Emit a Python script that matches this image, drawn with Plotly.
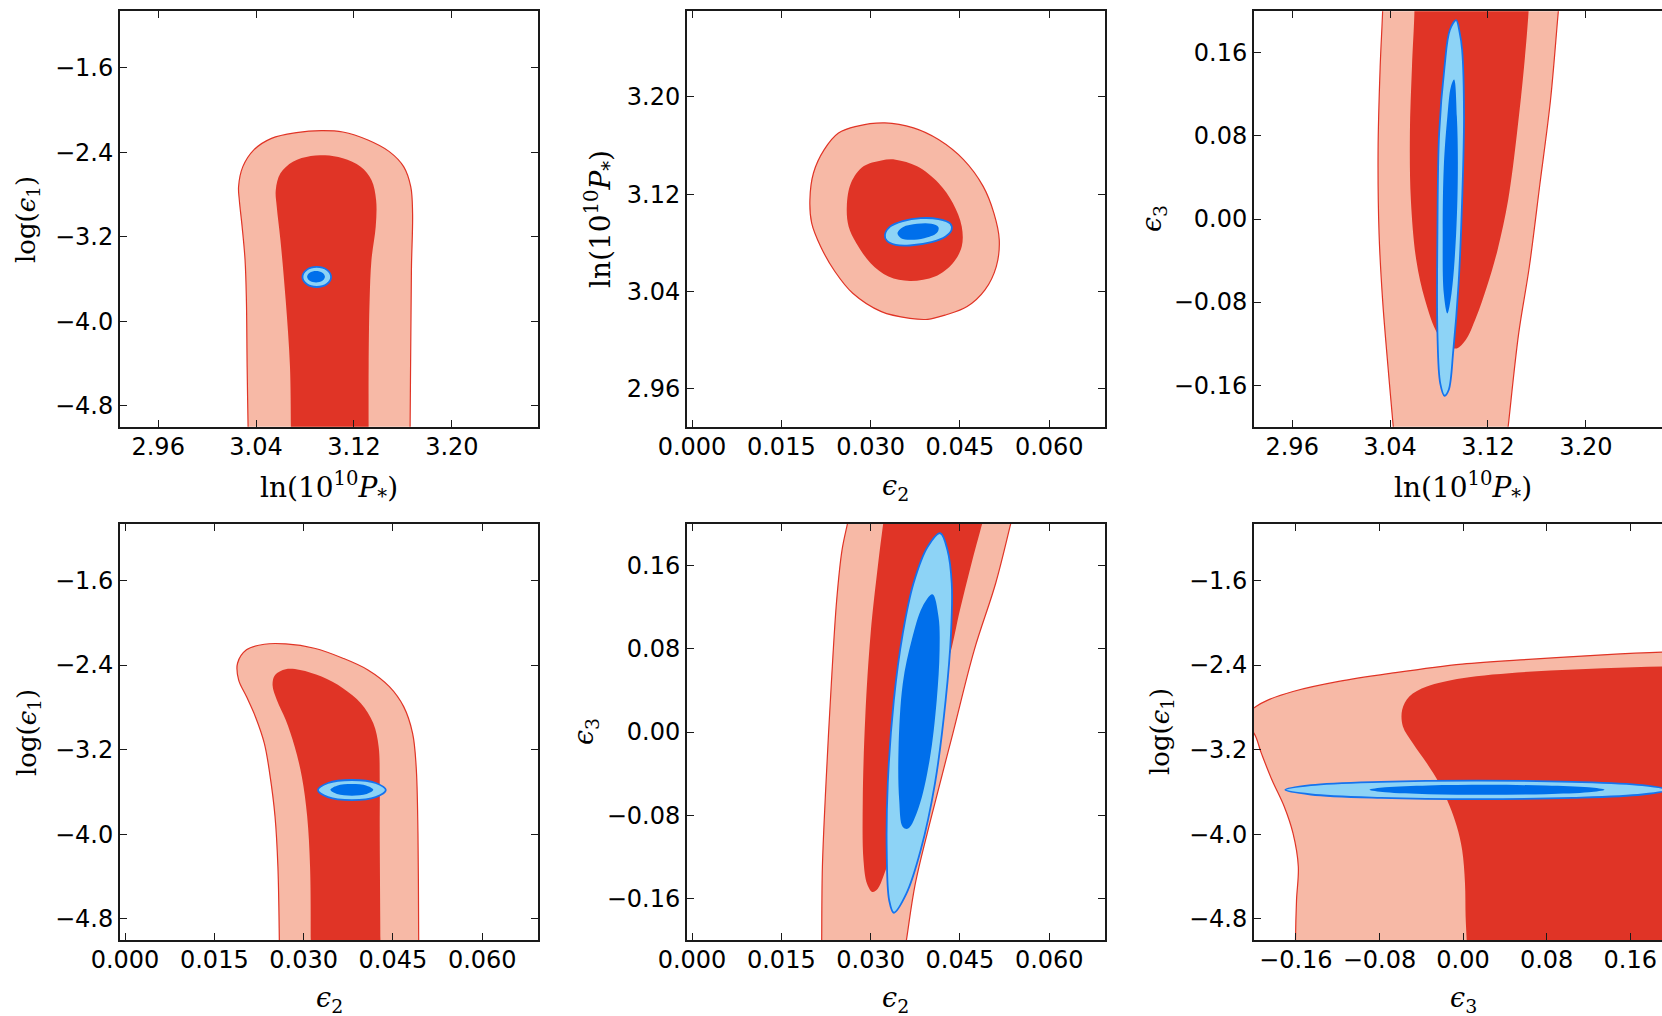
import plotly.graph_objects as go

W, H = 1662, 1016

# ---- tick positions -------------------------------------------------------
LNP_TICKS = [2.96, 3.04, 3.12, 3.20]
LOGE1_TICKS = [-4.8, -4.0, -3.2, -2.4, -1.6]
E2_TICKS = [0.000, 0.015, 0.030, 0.045, 0.060]
E3_TICKS = [-0.16, -0.08, 0.00, 0.08, 0.16]

# ---- axis ranges ----------------------------------------------------------
LNP_RANGE = [2.9288, 3.2704]
LOGE1_RANGE = [-5.0, -1.066]
E2_RANGE = [-0.00084, 0.06936]
E3_RANGE = [-0.20, 0.20]

# ---- confidence regions (x, y) -------------------------------------------
# panel 1: ln(10^10 P*) vs log(eps1)
P1_RED_68 = [(3.0340, -5.30), (3.0337, -5.15), (3.0327, -4.431), (3.0321, -3.800), (3.0310, -3.421),
             (3.0286, -3.105), (3.0263, -2.853), (3.0257, -2.727), (3.0292, -2.537), (3.0380, -2.380),
             (3.0526, -2.269), (3.0730, -2.215), (3.0934, -2.196), (3.1109, -2.209), (3.1314, -2.285),
             (3.1489, -2.395), (3.1606, -2.537), (3.1664, -2.727), (3.1679, -2.979), (3.1670, -3.484),
             (3.1665, -4.115), (3.1658, -5.15), (3.1658, -5.30)]
P1_RED_95 = [(3.0690, -5.30), (3.0686, -5.15), (3.0677, -4.431), (3.0642, -3.800), (3.0599, -3.232),
             (3.0569, -2.916), (3.0561, -2.758), (3.0599, -2.600), (3.0701, -2.490), (3.0847, -2.436),
             (3.0964, -2.430), (3.1109, -2.458), (3.1255, -2.537), (3.1343, -2.663), (3.1381, -2.853),
             (3.1378, -3.105), (3.1343, -3.421), (3.1328, -3.800), (3.1320, -4.431), (3.1320, -5.15),
             (3.1320, -5.30)]
P1_BLUE_68 = [(3.1013, -3.582), (3.0979, -3.515), (3.0896, -3.487), (3.0813, -3.515), (3.0779, -3.582),
              (3.0813, -3.649), (3.0896, -3.677), (3.0979, -3.649)]
P1_BLUE_95 = [(3.0963, -3.580), (3.0942, -3.542), (3.0890, -3.526), (3.0838, -3.542), (3.0817, -3.580),
              (3.0838, -3.618), (3.0890, -3.634), (3.0942, -3.618)]

# panel 2: eps2 vs ln(10^10 P*)
P2_RED_68 = [(0.0198, 3.1154), (0.0204, 3.1374), (0.0222, 3.1566), (0.0246, 3.1703), (0.0276, 3.1758),
             (0.0324, 3.1786), (0.0372, 3.1745), (0.0414, 3.1649), (0.0456, 3.1484), (0.0489, 3.1264),
             (0.0507, 3.1044), (0.0516, 3.0825), (0.0511, 3.0605), (0.0492, 3.0413), (0.0462, 3.0276),
             (0.0426, 3.0207), (0.0396, 3.0171), (0.0366, 3.0179), (0.0318, 3.0234), (0.0270, 3.0385),
             (0.0240, 3.0564), (0.0216, 3.0770), (0.0201, 3.0962)]
P2_RED_95 = [(0.0260, 3.1099), (0.0267, 3.1292), (0.0288, 3.1429), (0.0318, 3.1478), (0.0342, 3.1484),
             (0.0378, 3.1429), (0.0414, 3.1292), (0.0438, 3.1127), (0.0453, 3.0935), (0.0453, 3.0770),
             (0.0438, 3.0633), (0.0408, 3.0523), (0.0366, 3.0487), (0.0330, 3.0523), (0.0300, 3.0633),
             (0.0276, 3.0797), (0.0263, 3.0935)]
P2_BLUE_68 = [(0.0324, 3.0866), (0.0333, 3.0935), (0.0354, 3.0979), (0.0384, 3.1003), (0.0414, 3.0995),
              (0.0434, 3.0957), (0.0436, 3.0907), (0.0426, 3.0852), (0.0402, 3.0805), (0.0366, 3.0778),
              (0.0342, 3.0783), (0.0327, 3.0819)]
P2_BLUE_95 = [(0.0345, 3.0880), (0.0354, 3.0929), (0.0378, 3.0957), (0.0402, 3.0957), (0.0414, 3.0929),
              (0.0411, 3.0880), (0.0390, 3.0838), (0.0366, 3.0825), (0.0351, 3.0838)]

# panel 3: ln(10^10 P*) vs eps3
P3_RED_68 = [(3.0350, 0.26), (3.0345, 0.23), (3.0339, 0.1998), (3.0319, 0.1465), (3.0302, 0.0663),
             (3.0310, -0.0139), (3.0339, -0.0781), (3.0383, -0.1423), (3.0426, -0.2000), (3.0448, -0.23),
             (3.0470, -0.26), (3.1308, -0.26), (3.1336, -0.23), (3.1365, -0.2000), (3.1451, -0.1102),
             (3.1538, -0.0460), (3.1625, 0.0342), (3.1711, 0.1144), (3.1775, 0.1998), (3.1800, 0.23),
             (3.1820, 0.26)]
P3_RED_95 = [(3.0600, 0.26), (3.0600, 0.23), (3.0599, 0.1998), (3.0579, 0.1465), (3.0562, 0.0823),
             (3.0570, 0.0182), (3.0614, -0.0396), (3.0686, -0.0781), (3.0787, -0.1102), (3.0888, -0.1230),
             (3.0946, -0.1246), (3.1018, -0.1166), (3.1105, -0.0942), (3.1191, -0.0653), (3.1278, -0.0300),
             (3.1365, 0.0182), (3.1437, 0.0823), (3.1495, 0.1465), (3.1532, 0.1998), (3.1545, 0.23),
             (3.1555, 0.26)]
P3_BLUE_68 = [(3.0940, 0.1914), (3.0968, 0.1800), (3.0989, 0.1626), (3.1004, 0.0984), (3.0989, 0.0182),
              (3.0960, -0.0621), (3.0917, -0.1262), (3.0879, -0.1647), (3.0845, -0.1702), (3.0810, -0.1583),
              (3.0787, -0.1102), (3.0787, -0.0139), (3.0801, 0.0823), (3.0845, 0.1465), (3.0888, 0.1818)]
P3_BLUE_95 = [(3.0923, 0.1343), (3.0946, 0.0984), (3.0954, 0.0503), (3.0940, -0.0139), (3.0902, -0.0717),
              (3.0868, -0.0909), (3.0839, -0.0717), (3.0830, -0.0139), (3.0839, 0.0503), (3.0868, 0.0984),
              (3.0897, 0.1273)]

# panel 4: eps2 vs log(eps1)
P4_RED_68 = [(0.02600, -5.30), (0.02595, -5.15), (0.02592, -5.0), (0.02568, -4.308), (0.0252, -3.834),
             (0.0243, -3.424), (0.0234, -3.140), (0.0219, -2.888), (0.0204, -2.698), (0.01908, -2.540),
             (0.0189, -2.383), (0.0204, -2.256), (0.0234, -2.203), (0.0270, -2.200), (0.0318, -2.241),
             (0.0366, -2.335), (0.0408, -2.446), (0.0444, -2.604), (0.0468, -2.793), (0.0483, -3.045),
             (0.0489, -3.361), (0.0492, -3.992), (0.04932, -5.0), (0.04935, -5.15), (0.04935, -5.30)]
P4_RED_95 = [(0.03125, -5.30), (0.0312, -5.15), (0.0312, -5.0), (0.03108, -4.308), (0.0306, -3.834),
             (0.0297, -3.456), (0.0285, -3.172), (0.0270, -2.919), (0.0255, -2.730), (0.02478, -2.588),
             (0.0252, -2.493), (0.0270, -2.439), (0.0294, -2.446), (0.0330, -2.509), (0.0366, -2.619),
             (0.0396, -2.761), (0.0417, -2.951), (0.0426, -3.172), (0.04278, -3.519), (0.04278, -3.992),
             (0.0429, -5.0), (0.0429, -5.15), (0.0429, -5.30)]
P4_BLUE_68 = [(0.0438, -3.582), (0.0421, -3.515), (0.0381, -3.487), (0.0341, -3.515), (0.0324, -3.582),
              (0.0341, -3.649), (0.0381, -3.677), (0.0421, -3.649)]
P4_BLUE_95 = [(0.0417, -3.580), (0.0406, -3.541), (0.0381, -3.525), (0.0356, -3.541), (0.0345, -3.580),
              (0.0356, -3.619), (0.0381, -3.635), (0.0406, -3.619)]

# panel 5: eps2 vs eps3
P5_RED_68 = [(0.0217, -0.26), (0.02175, -0.23), (0.02178, -0.2005), (0.0219, -0.1299), (0.0225, -0.0496),
             (0.0234, 0.0467), (0.0243, 0.1269), (0.0252, 0.1751), (0.0261, 0.2001), (0.0272, 0.23),
             (0.0283, 0.26), (0.0561, 0.26), (0.0548, 0.23), (0.05352, 0.2001), (0.0510, 0.1430),
             (0.0474, 0.0788), (0.0438, -0.0015), (0.0402, -0.0817), (0.0375, -0.1459), (0.0360, -0.2005),
             (0.0352, -0.23), (0.0344, -0.26)]
P5_RED_95 = [(0.0334, 0.26), (0.0328, 0.23), (0.0321, 0.2001), (0.0312, 0.1590), (0.0300, 0.0948),
             (0.0291, 0.0146), (0.02868, -0.0657), (0.0288, -0.1234), (0.0294, -0.1459), (0.0303, -0.1539),
             (0.0312, -0.1507), (0.0321, -0.1395), (0.0330, -0.1234), (0.0354, -0.0336), (0.0378, 0.0146),
             (0.0414, 0.0467), (0.0432, 0.0724), (0.0450, 0.1173), (0.0468, 0.1590), (0.04872, 0.2001),
             (0.0501, 0.23), (0.0515, 0.26)]
P5_BLUE_68 = [(0.0417, 0.1911), (0.0429, 0.1751), (0.04362, 0.1430), (0.0435, 0.0948), (0.0426, 0.0306),
              (0.0408, -0.0496), (0.0384, -0.1138), (0.0360, -0.1555), (0.0339, -0.1738), (0.03312, -0.1620),
              (0.0327, -0.1138), (0.03288, -0.0496), (0.0339, 0.0306), (0.0354, 0.0948), (0.0372, 0.1430),
              (0.0396, 0.1783)]
P5_BLUE_95 = [(0.04038, 0.1324), (0.0414, 0.1109), (0.04158, 0.0788), (0.0411, 0.0306), (0.0399, -0.0271),
              (0.0381, -0.0721), (0.0363, -0.0929), (0.0354, -0.0913), (0.0348, -0.0657), (0.03468, -0.0175),
              (0.0354, 0.0467), (0.0369, 0.0884), (0.0387, 0.1205)]

# panel 6: eps3 vs log(eps1)
P6_RED_68 = [(0.26, -2.265), (0.23, -2.270), (0.1907, -2.278), (0.1340, -2.303), (0.0666, -2.344),
             (-0.0008, -2.391), (-0.0683, -2.477), (-0.1189, -2.555), (-0.1627, -2.650), (-0.1863, -2.729),
             (-0.1981, -2.792), (-0.2125, -2.920), (-0.2001, -3.044), (-0.1930, -3.233), (-0.1829, -3.485),
             (-0.1711, -3.738), (-0.1627, -3.990), (-0.1576, -4.305), (-0.1593, -4.621), (-0.1603, -5.0),
             (-0.1603, -5.15), (-0.1603, -5.30), (0.26, -5.30)]
P6_RED_95 = [(0.26, -2.405), (0.23, -2.408), (0.1907, -2.413), (0.1340, -2.429), (0.0666, -2.461),
             (-0.0008, -2.524), (-0.0346, -2.603), (-0.0514, -2.697), (-0.0582, -2.823), (-0.0575, -2.981),
             (-0.0480, -3.139), (-0.0346, -3.328), (-0.0228, -3.517), (-0.0126, -3.738), (-0.0059, -3.927),
             (-0.0008, -4.148), (0.0019, -4.463), (0.0025, -4.778), (0.0035, -5.0), (0.0040, -5.15),
             (0.0040, -5.30), (0.26, -5.30)]
P6_BLUE_68 = [(0.1960, -3.580), (0.1715, -3.536), (0.1045, -3.504), (0.0130, -3.492), (-0.0785, -3.504),
              (-0.1455, -3.536), (-0.1700, -3.580), (-0.1455, -3.624), (-0.0785, -3.656), (0.0130, -3.668),
              (0.1045, -3.656), (0.1715, -3.624)]
P6_BLUE_95 = [(0.1355, -3.580), (0.1204, -3.5565), (0.0793, -3.5393), (0.0230, -3.533), (-0.0333, -3.5393),
              (-0.0744, -3.5565), (-0.0895, -3.580), (-0.0744, -3.6035), (-0.0333, -3.6207), (0.0230, -3.627),
              (0.0793, -3.6207), (0.1204, -3.6035)]

# ---- styling --------------------------------------------------------------
RED_LIGHT = "#F7B9A6"
RED_DARK = "#E03426"
BLUE_LIGHT = "#8DD3F6"
BLUE_DARK = "#006FEB"
BLUE_EDGE = "#1573EE"
SPINE = "#1a1a1a"

TICK_FONT = dict(family="DejaVu Sans", size=24, color="black")
SERIF = "DejaVu Serif"

# (text, font size)
LNP_TITLE = ("ln(10<sup>10</sup><i>P</i><sub>*</sub>)", 28)
LOGE1_TITLE = ("log(<i>ϵ</i><sub>1</sub>)", 26)
E2_TITLE = ("<i>ϵ</i><sub>2</sub>", 27)
E3_TITLE = ("<i>ϵ</i><sub>3</sub>", 27)

# panel frames in pixels
COL_X = [(120, 538), (687, 1105), (1254, 1672)]
ROW_Y = [(11.3, 426.7), (524.0, 940.0)]


def xdom(c):
    a, b = COL_X[c]
    return [a / W, min(b, W) / W]


def ydom(r):
    a, b = ROW_Y[r]
    return [(H - b) / H, (H - a) / H]


def visible_range(rng, c):
    a, b = COL_X[c]
    frac = (min(b, W) - a) / (b - a)
    return [rng[0], rng[0] + (rng[1] - rng[0]) * frac]


def axis(domain, rng, ticks, fmt, anchor, mirror=True, standoff=0):
    return dict(domain=domain, range=rng, tickvals=ticks, tickformat=fmt, anchor=anchor,
                showline=True, linecolor=SPINE, linewidth=2,
                mirror="ticks" if mirror else False,
                ticks="inside", ticklen=7, tickwidth=1, tickcolor=SPINE,
                showgrid=False, zeroline=False, tickfont=TICK_FONT, fixedrange=True,
                automargin=False, ticklabelstandoff=standoff)


panels = [
    # (row, col, xrange, xticks, xfmt, xtitle, yrange, yticks, yfmt, ytitle, regions, red closed)
    (0, 0, LNP_RANGE, LNP_TICKS, ".2f", LNP_TITLE, LOGE1_RANGE, LOGE1_TICKS, ".1f", LOGE1_TITLE,
     (P1_RED_68, P1_RED_95, P1_BLUE_68, P1_BLUE_95), False),
    (0, 1, E2_RANGE, E2_TICKS, ".3f", E2_TITLE, LNP_RANGE, LNP_TICKS, ".2f", LNP_TITLE,
     (P2_RED_68, P2_RED_95, P2_BLUE_68, P2_BLUE_95), True),
    (0, 2, LNP_RANGE, LNP_TICKS, ".2f", LNP_TITLE, E3_RANGE, E3_TICKS, ".2f", E3_TITLE,
     (P3_RED_68, P3_RED_95, P3_BLUE_68, P3_BLUE_95), False),
    (1, 0, E2_RANGE, E2_TICKS, ".3f", E2_TITLE, LOGE1_RANGE, LOGE1_TICKS, ".1f", LOGE1_TITLE,
     (P4_RED_68, P4_RED_95, P4_BLUE_68, P4_BLUE_95), False),
    (1, 1, E2_RANGE, E2_TICKS, ".3f", E2_TITLE, E3_RANGE, E3_TICKS, ".2f", E3_TITLE,
     (P5_RED_68, P5_RED_95, P5_BLUE_68, P5_BLUE_95), False),
    (1, 2, E3_RANGE, E3_TICKS, ".2f", E3_TITLE, LOGE1_RANGE, LOGE1_TICKS, ".1f", LOGE1_TITLE,
     (P6_RED_68, P6_RED_95, P6_BLUE_68, P6_BLUE_95), False),
]

# y-title horizontal positions (px) per panel, x-title vertical positions per row
YTITLE_X = [28, 601, 1154, 28, 585, 1161]
XTITLE_Y = [487, 999]

fig = go.Figure()
layout = dict(width=W, height=H, margin=dict(l=0, r=0, t=0, b=0, pad=0, autoexpand=False),
              paper_bgcolor="white", plot_bgcolor="white", showlegend=False)
annotations = []


def region(pts, closed, fill, line_color, line_width, xa, ya):
    if closed:
        pts = list(pts) + [pts[0]]
    xs = [p[0] for p in pts]
    ys = [p[1] for p in pts]
    return go.Scatter(x=xs, y=ys, xaxis=xa, yaxis=ya, mode="lines", fill="toself",
                      fillcolor=fill,
                      line=dict(color=line_color, width=line_width, shape="spline", smoothing=1.0),
                      hoverinfo="skip", showlegend=False)


for i, (r, c, xr, xt, xf, xtitle, yr, yt, yf, ytitle, regs, red_closed) in enumerate(panels):
    n = i + 1
    xa = "x" if n == 1 else f"x{n}"
    ya = "y" if n == 1 else f"y{n}"
    cut = COL_X[c][1] > W
    xrng = visible_range(xr, c)
    layout["xaxis" if n == 1 else f"xaxis{n}"] = axis(xdom(c), xrng, xt, xf, ya, standoff=-3)
    layout["yaxis" if n == 1 else f"yaxis{n}"] = axis(ydom(r), yr, yt, yf, xa, mirror=not cut)

    red68, red95, blue68, blue95 = regs
    fig.add_trace(region(red68, red_closed, RED_LIGHT, RED_DARK, 1.2, xa, ya))
    fig.add_trace(region(red95, red_closed, RED_DARK, RED_DARK, 0, xa, ya))
    fig.add_trace(region(blue68, True, BLUE_LIGHT, BLUE_EDGE, 1.8, xa, ya))
    fig.add_trace(region(blue95, True, BLUE_DARK, BLUE_DARK, 0, xa, ya))

    # axis titles
    x0, x1 = COL_X[c]
    annotations.append(dict(text=xtitle[0], xref="paper", yref="paper",
                            x=(x0 + x1) / 2 / W, y=(H - XTITLE_Y[r]) / H,
                            xanchor="center", yanchor="middle", showarrow=False,
                            font=dict(family=SERIF, size=xtitle[1], color="black")))
    y0, y1 = ROW_Y[r]
    annotations.append(dict(text=ytitle[0], xref="paper", yref="paper",
                            x=YTITLE_X[i] / W, y=(H - (y0 + y1) / 2) / H, textangle=-90,
                            xanchor="center", yanchor="middle", showarrow=False,
                            font=dict(family=SERIF, size=ytitle[1], color="black")))

layout["annotations"] = annotations
fig.update_layout(**layout)
fig.write_html("out.html")
